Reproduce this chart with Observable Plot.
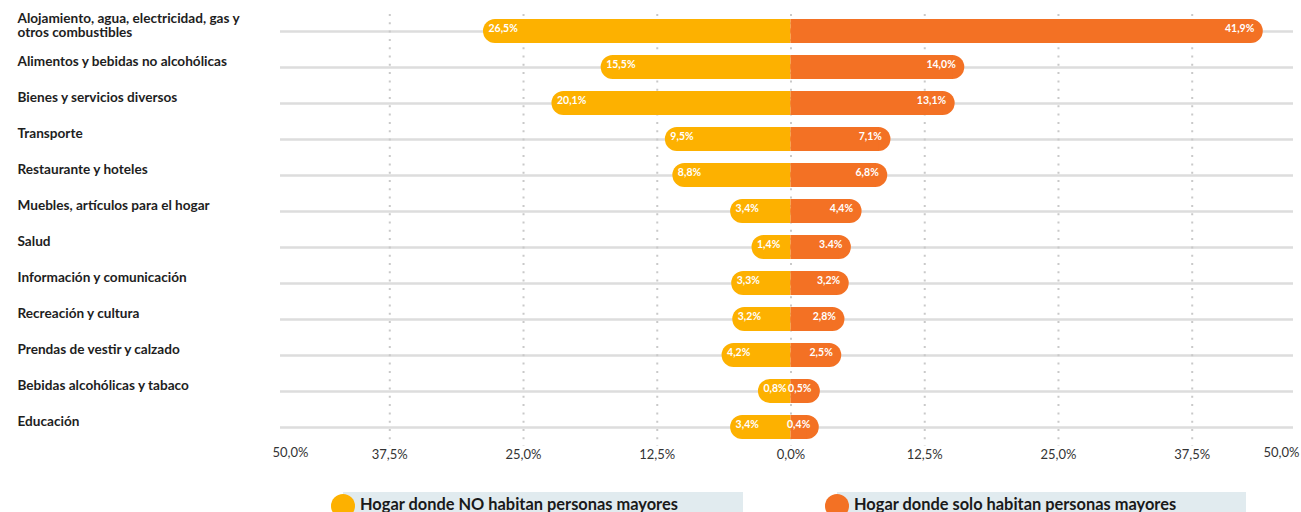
<!DOCTYPE html>
<html>
<head>
<meta charset="utf-8">
<script src="https://cdn.jsdelivr.net/npm/d3@7"></script>
<script src="https://cdn.jsdelivr.net/npm/@observablehq/plot@0.6"></script>
<style>
  html, body { margin: 0; padding: 0; background: #fff; }
  #wrap { position: relative; width: 1301px; height: 512px; overflow: hidden; font-family: Lato, "Open Sans", sans-serif; }
  .leg { position: absolute; top: 492px; height: 30px; background: #e1ebef; }
  .leg .dot { position: absolute; left: -12px; top: 2px; width: 24px; height: 24px; border-radius: 50%; }
  .leg .txt { position: absolute; left: 17px; top: 2px; font-weight: 700; font-size: 16.4px; color: #1a1a1a; white-space: nowrap; }
</style>
</head>
<body>
<div id="wrap">
  <div id="chart"></div>
  <div class="leg" style="left:343px;width:400px;"><div class="dot" id="d1"></div><div class="txt" id="t1"></div></div>
  <div class="leg" style="left:837px;width:409px;"><div class="dot" id="d2"></div><div class="txt" id="t2"></div></div>
</div>
<script>
const categories = [
  "Alojamiento, agua, electricidad, gas y\notros combustibles",
  "Alimentos y bebidas no alcohólicas",
  "Bienes y servicios diversos",
  "Transporte",
  "Restaurante y hoteles",
  "Muebles, artículos para el hogar",
  "Salud",
  "Información y comunicación",
  "Recreación y cultura",
  "Prendas de vestir y calzado",
  "Bebidas alcohólicas y tabaco",
  "Educación"
];
const noMayores = [26.5, 15.5, 20.1, 9.5, 8.8, 3.4, 1.4, 3.3, 3.2, 4.2, 0.8, 3.4];
const soloMayores = [41.9, 14.0, 13.1, 7.1, 6.8, 4.4, 3.4, 3.2, 2.8, 2.5, 0.5, 0.4];
const noMayoresLabels = ["26,5%", "15,5%", "20,1%", "9,5%", "8,8%", "3,4%", "1,4%", "3,3%", "3,2%", "4,2%", "0,8%", "3,4%"];
const soloMayoresLabels = ["41,9%", "14,0%", "13,1%", "7,1%", "6,8%", "4,4%", "3.4%", "3,2%", "2,8%", "2,5%", "0,5%", "0,4%"];
const tickValues = [-37.5, -25, -12.5, 0, 12.5, 25, 37.5];
const endTickLabel = ["50,0%"];
const seriesNames = ["Hogar donde NO habitan personas mayores", "Hogar donde solo habitan personas mayores"];
const colors = ["#fdb100", "#f37124"];

const rows = categories.map((c, i) => ({
  cat: c,
  no: -noMayores[i],
  solo: soloMayores[i],
  noLabel: noMayoresLabels[i],
  soloLabel: soloMayoresLabels[i]
}));

const fmt = d => Math.abs(d).toFixed(1).replace(".", ",") + "%";
const barStyle = {y: "cat", insetTop: 6, insetBottom: 6};

const chart = Plot.plot({
  width: 1301,
  height: 470,
  marginLeft: 280,
  marginRight: 8,
  marginTop: 14,
  marginBottom: 24,
  style: {fontFamily: "Lato, 'Open Sans', sans-serif", fontSize: "13px", color: "#333", background: "white"},
  x: {domain: [-46.78, 46.78], range: [290, 1291], ticks: tickValues, tickFormat: fmt, tickSize: 0, tickPadding: 3, label: null},
  y: {domain: categories, range: [11, 446], padding: 0, axis: null},
  marks: [
    Plot.ruleY(rows, {y: "cat", stroke: "#dddddd", strokeWidth: 2.5}),
    Plot.ruleX(tickValues, {stroke: "#c9c9c9", strokeWidth: 2, strokeDasharray: "2,6.3"}),
    Plot.barX(rows, {...barStyle, x1: "no", x2: 0, fill: colors[0], rx: 12, insetLeft: -24}),
    Plot.barX(rows, {...barStyle, x1: "no", x2: 0, fill: colors[0], insetLeft: -12}),
    Plot.barX(rows, {...barStyle, x1: 0, x2: "solo", fill: colors[1], rx: 12, insetRight: -24}),
    Plot.barX(rows, {...barStyle, x1: 0, x2: "solo", fill: colors[1], insetRight: -12}),
    Plot.text(rows, {y: "cat", x: "no", text: "noLabel", textAnchor: "start", dx: -19, dy: -3, fill: "white", fontWeight: 700, fontSize: 10.5}),
    Plot.text(rows, {y: "cat", x: "solo", text: "soloLabel", textAnchor: "end", dx: 15, dy: -3, fill: "white", fontWeight: 700, fontSize: 10.5}),
    Plot.text(rows, {y: "cat", text: "cat", frameAnchor: "left", textAnchor: "start", dx: -263, dy: -6, fontSize: 13.6, fontWeight: 700, fill: "#1e1e1e", lineHeight: 1.05}),
    Plot.text(endTickLabel, {text: d => d, frameAnchor: "bottom-left", dx: 10, dy: 10, textAnchor: "middle", fontSize: 13, fill: "#333"}),
    Plot.text(endTickLabel, {text: d => d, frameAnchor: "bottom-right", dx: -12, dy: 10, textAnchor: "middle", fontSize: 13, fill: "#333"})
  ]
});
document.getElementById("chart").appendChild(chart);
document.getElementById("d1").style.background = colors[0];
document.getElementById("d2").style.background = colors[1];
document.getElementById("t1").textContent = seriesNames[0];
document.getElementById("t2").textContent = seriesNames[1];
</script>
</body>
</html>
